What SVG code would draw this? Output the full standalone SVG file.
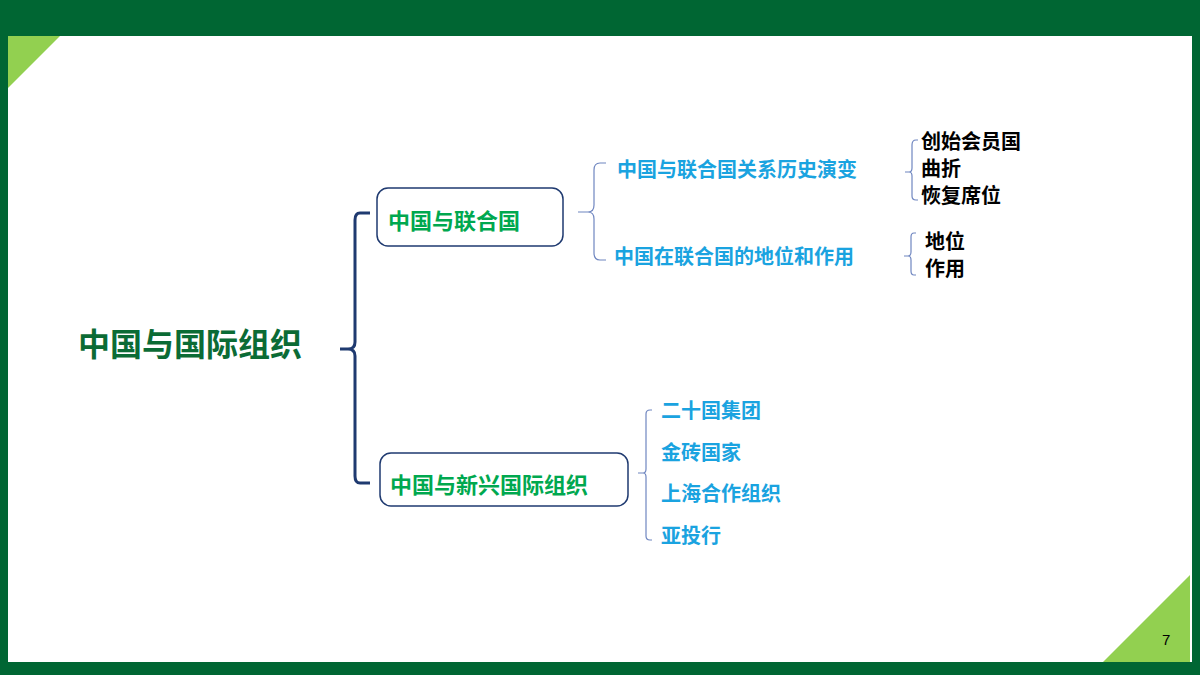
<svg xmlns="http://www.w3.org/2000/svg" width="1200" height="675" viewBox="0 0 1200 675">
<style>
text{font-family:"Noto Sans CJK SC","Liberation Sans",sans-serif;font-weight:bold}
.box{fill:#fff;stroke:#1F3A70;stroke-width:1.5}
.g{fill:#00A84F;font-size:22px}
.b{fill:#1AA3E0;font-size:20px}
.k{fill:#000;font-size:20px}
.br{fill:none;stroke:#6F86C0;stroke-width:1.2}
</style>
<rect width="1200" height="675" fill="#006633"/>
<rect x="8" y="36" width="1184" height="626" fill="#fff"/>
<polygon points="8,36 60,36 8,88" fill="#92D050"/>
<polygon points="1190,575 1190,662 1103,662" fill="#92D050"/>
<text x="1162" y="645" style="font-family:'Liberation Sans',sans-serif;font-weight:normal;font-size:15px">7</text>
<g id="connectors">
<path d="M370,213 H360 Q355,213 355,220 V342 Q355,349 348,349 H340 M348,349 Q355,349 355,356 V476 Q355,483 360,483 H370" fill="none" stroke="#1F3A70" stroke-width="3"/>
<path class="br" d="M578,212 H588 Q594,212 594,205 V170 Q594,163 600,163 H606 M588,212 Q594,212 594,219 V253 Q594,260 600,260 H606"/>
<path class="br" d="M905,172 H909 Q912,172 912,168 V145 Q912,140 916,140 H918 M909,172 Q912,172 912,176 V196 Q912,200 916,200 H918"/>
<path class="br" d="M904,256 H908 Q911,256 911,252 V237 Q911,233 914,233 H916 M908,256 Q911,256 911,260 V271 Q911,275 914,275 H916"/>
<path class="br" d="M638,473 H643 Q646,473 646,469 V414 Q646,410 650,410 H652 M643,473 Q646,473 646,477 V536 Q646,540 650,540 H652"/>
</g>
<g id="root"><text x="78" y="356" style="font-size:32px;fill:#0B6B35">中国与国际组织</text></g>
<g id="n1"><rect class="box" x="377" y="188" width="186" height="58" rx="11"/><text class="g" x="388" y="229">中国与联合国</text></g>
<g id="n2"><rect class="box" x="380" y="453" width="248" height="53" rx="11"/><text class="g" x="390" y="493">中国与新兴国际组织</text></g>
<g id="n11"><text class="b" x="617" y="177">中国与联合国关系历史演变</text></g>
<g id="n12"><text class="b" x="614" y="264">中国在联合国的地位和作用</text></g>
<g id="n111"><text class="k" x="921" y="149">创始会员国</text><text class="k" x="921" y="176">曲折</text><text class="k" x="921" y="203">恢复席位</text></g>
<g id="n121"><text class="k" x="925" y="249">地位</text><text class="k" x="925" y="276">作用</text></g>
<g id="n21"><text class="b" x="661" y="418">二十国集团</text><text class="b" x="661" y="460">金砖国家</text><text class="b" x="661" y="501">上海合作组织</text><text class="b" x="661" y="543">亚投行</text></g>
</svg>
